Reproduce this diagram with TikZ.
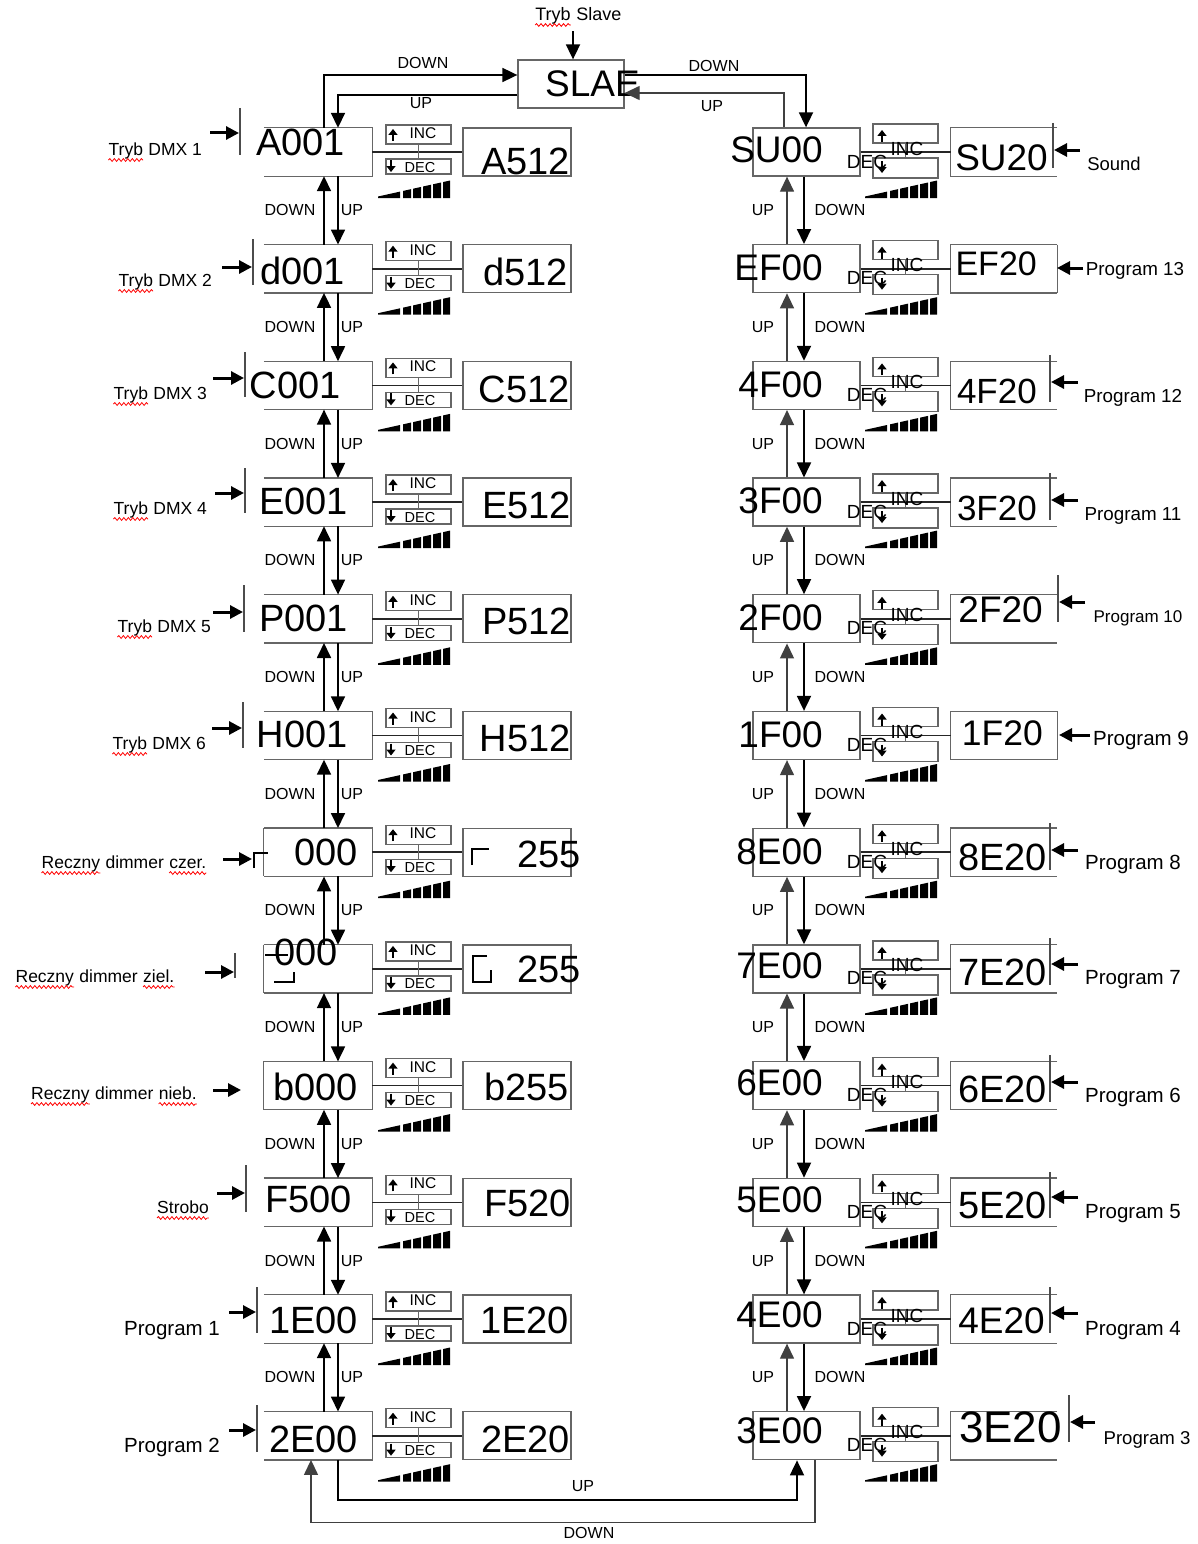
\documentclass[tikz,border=0pt]{standalone}
\usepackage{fontspec}
\setmainfont{Liberation Sans}
\usetikzlibrary{arrows.meta,decorations.pathmorphing}
\newcommand\redsq[1]{\tikz[baseline=(w.base)]{\node[inner sep=0pt,anchor=base](w) at (0,0) {#1};
  \draw[red, line width=0.8pt, decorate, decoration={snake, amplitude=1.4pt, segment length=4.5pt}]
    ([yshift=-4.5pt]w.base west) -- ([yshift=-4.5pt]w.base east);}}
\newcommand\sigbars[2]{%
  \foreach \sa/\sb in {0/22,25/33,35/43,45/53,55/63,65/72}{%
    \fill ({#1+\sa},{#2}) -- ({#1+\sb},{#2}) -- ({#1+\sb},{#2-1.5-16*\sb/72}) -- ({#1+\sa},{#2-1.5-16*\sa/72}) -- cycle;}}
\tikzset{
  box/.style={draw=black!60, line width=1.3pt, inner sep=0pt},
  boxline/.style={draw=black!60, line width=1.3pt},
  conn/.style={draw=black!85, line width=1.6pt},
  arr/.style={draw=black, line width=1.8pt, -{Triangle[length=15pt,width=14pt]}},
  arrthin/.style={draw=black!75, line width=1.3pt, -{Triangle[length=15pt,width=14pt]}},
  inarr/.style={draw=black, line width=3pt, -{Triangle[length=13pt,width=13pt]}},
  tinyarr/.style={draw=black, line width=2.2pt, -{Triangle[length=6pt,width=9pt]}},
  barline/.style={draw=black!70, line width=1.3pt},
  glyph/.style={draw=black, line width=1.8pt},
  big/.style={inner sep=0pt, anchor=base east, font=\fontsize{#1}{#1}\selectfont},
  big/.default=38,
  lab/.style={inner sep=0pt, anchor=base, font=\fontsize{#1}{#1}\selectfont},
  lab/.default=17.5,
  ud/.style={inner sep=0pt, anchor=base, font=\fontsize{16}{16}\selectfont},
}
\begin{document}
\begin{tikzpicture}[x=1pt,y=-1pt]
\fill[white] (0,0) rectangle (1198,1544);
\useasboundingbox (0,0) rectangle (1198,1544);

% ---------------- left column ----------------
\foreach \i in {0,...,11}{
  \pgfmathsetmacro\ty{128+116.7*\i}
  \node[inner sep=0pt, minimum width=108pt, minimum height=48pt] (L\i) at (318,\ty+24) {};
  \draw[boxline] (L\i.north west) -- (L\i.north east) -- (L\i.south east) -- (L\i.south west);
  \node[box, minimum width=65pt, minimum height=19pt] (LI\i) at (418.5,\ty+6.5) {};
  \node[box, minimum width=65pt, minimum height=15pt] (LD\i) at (418.5,\ty+38.5) {};
  \node[box, minimum width=108pt, minimum height=48pt] (LV\i) at (517,\ty+24) {};
  \draw[conn] (L\i.east) -- (LV\i.west);
  \draw[boxline] (LI\i.south) -- (LD\i.north);
  \draw[tinyarr] (393,\ty+13) -- (393,\ty+1);
  \draw[tinyarr] (391,\ty+32) -- (391,\ty+44);
  \node[lab=15.5] at (423,\ty+10.5) {INC};
  \node[lab=14.5] at (420,\ty+44) {DEC};
  \sigbars{378}{\ty+70}
}
\foreach \i in {6,7,8}{ \draw[boxline] (L\i.north west) -- (L\i.south west); }

\foreach \i/\txt/\xr/\bl in {0/A001/345/155.6, 1/d001/345/284.6, 2/C001/341/398.6, 3/E001/348/514.6,
  4/P001/348/631.6, 5/H001/348/747.6, 6/000/358/865.6, 7/000/338/965.6, 8/b000/358/1100,
  9/F500/352/1212, 10/1E00/358/1333, 11/2E00/358/1452}
  { \node[big] (LT\i) at (\xr,\bl) {\txt}; }
\foreach \i/\txt/\xr/\bl in {0/A512/570/175, 1/d512/568/285, 2/C512/570/402, 3/E512/571/518,
  4/P512/571/634, 5/H512/571/751, 6/255/581/867, 7/255/581/982, 8/b255/569/1100,
  9/F520/571/1216, 10/1E20/569/1333, 11/2E20/570/1452}
  { \node[big] (LW\i) at (\xr,\bl) {\txt}; }

% odd glyphs of the colour dimmer rows
\draw[glyph] (254,868) -- (254,853) -- (268,853);
\draw[glyph] (472,865) -- (472,849) -- (489,849);
\draw[glyph] (265,955) -- (288,955);
\draw[glyph] (274,982) -- (294,982) -- (294,972);
\draw[glyph] (487,956) -- (473,956) -- (473,982) -- (491,982) -- (491,970);

% input bars and arrows on the left
\foreach \x/\ya/\yb in {240/108/155, 253/239/285, 245/352/397, 245/468/513, 244/585/632,
  243/702/748, 235/953/978, 246/1165/1212, 257/1287/1333, 257/1405/1452}
  { \draw[barline] (\x,\ya) -- (\x,\yb); }
\foreach \y/\xa/\xb in {133/210/239, 267/222/252, 378/213/244, 493/215/244, 612/213/243,
  728/212/242, 859/223/252, 972/205/234, 1090/213/241, 1193/217/245, 1312/229/256, 1430/229/256}
  { \draw[inarr] (\xa,\y) -- (\xb,\y); }

\foreach \x/\y/\fs/\txt in {155/155.5/17.5/{\redsq{Tryb} DMX 1}, 165/286.5/17.5/{\redsq{Tryb} DMX 2},
  160/399.5/17.5/{\redsq{Tryb} DMX 3}, 160/514.5/17.5/{\redsq{Tryb} DMX 4},
  164/632.5/17.5/{\redsq{Tryb} DMX 5}, 159/749.5/17.5/{\redsq{Tryb} DMX 6},
  124/868.5/17.5/{\redsq{Reczny} dimmer \redsq{czer.}}, 95/982.5/17.5/{\redsq{Reczny} dimmer \redsq{ziel.}},
  114/1099.5/17.5/{\redsq{Reczny} dimmer \redsq{nieb.}}, 183/1213.5/17.5/{\redsq{Strobo}},
  172/1335/20.5/{Program 1}, 172/1452/20.5/{Program 2}}
  { \node[lab=\fs] at (\x,\y) {\txt}; }

% ---------------- right column ----------------
\foreach \i in {0,...,11}{
  \pgfmathsetmacro\ty{128+116.7*\i}
  \node[box, minimum width=107pt, minimum height=48pt] (R\i) at (806.5,\ty+24) {};
  \node[box, minimum width=65pt, minimum height=19pt] (RI\i) at (905.5,\ty+5.5) {};
  \node[box, minimum width=65pt, minimum height=20pt] (RD\i) at (905.5,\ty+40) {};
  \node[inner sep=0pt, minimum width=106pt, minimum height=48pt] (RV\i) at (1004,\ty+24) {};
  \draw[boxline] (RV\i.north east) -- (RV\i.north west) -- (RV\i.south west) -- (RV\i.south east);
  \draw[conn] (R\i.east) -- (RV\i.west);
  \draw[boxline] (RI\i.south) -- (RD\i.north);
  \draw[tinyarr] (882,\ty+14) -- (882,\ty+2);
  \draw[tinyarr] (882,\ty+33) -- (882,\ty+45);
  \node[lab=19] at (907,\ty+27) {INC};
  \node[lab=19] at (867,\ty+40) {DEC};
  \sigbars{865}{\ty+70}
}
\foreach \i in {1,5}{ \draw[boxline] (RV\i.north east) -- (RV\i.south east); }

\foreach \i/\txt/\bl in {0/SU00/162, 1/EF00/280, 2/4F00/397, 3/3F00/513, 4/2F00/630, 5/1F00/747,
  6/8E00/864, 7/7E00/978, 8/6E00/1095, 9/5E00/1212, 10/4E00/1327, 11/3E00/1443}
  { \node[big=37] (RT\i) at (823,\bl) {\txt}; }
\foreach \i/\txt/\xr/\bl/\fs in {0/SU20/1048/170/37, 1/EF20/1037/275/34, 2/4F20/1037/403/35,
  3/3F20/1037/520/35, 4/2F20/1043/622/37, 5/1F20/1043/745/35.5, 6/8E20/1047/870/38,
  7/7E20/1047/985/38, 8/6E20/1047/1102/38, 9/5E20/1047/1218/38, 10/4E20/1045/1333/37,
  11/3E20/1062/1442/44}
  { \node[big=\fs] (RW\i) at (\xr,\bl) {\txt}; }

\foreach \x/\ya/\yb in {1053/123/168, 1050/355/402, 1050/473/520, 1058/575/622, 1050/823/870,
  1050/938/985, 1050/1055/1102, 1050/1172/1218, 1050/1287/1333, 1069/1395/1442}
  { \draw[barline] (\x,\ya) -- (\x,\yb); }
\foreach \y/\xa/\xb in {150/1080/1054, 268/1083/1057, 382/1078/1051, 500/1078/1051, 602/1085/1059,
  735/1090/1059, 850/1078/1051, 964/1078/1051, 1082/1078/1051, 1197/1078/1051, 1313/1078/1051,
  1422/1095/1070}
  { \draw[inarr] (\xa,\y) -- (\xb,\y); }

\foreach \x/\y/\fs/\txt in {1114/170.5/18.5/{Sound}, 1135/275.5/18.8/{Program 13},
  1133/402.5/18.8/{Program 12}, 1133/520.5/18.8/{Program 11}, 1138/622/17/{Program 10},
  1141/745.3/20.5/{Program 9}, 1133/869.3/20.5/{Program 8}, 1133/984.3/20.5/{Program 7},
  1133/1102.3/20.5/{Program 6}, 1133/1218.3/20.5/{Program 5}, 1133/1335.3/20.5/{Program 4},
  1147/1444/18.6/{Program 3}}
  { \node[lab=\fs] at (\x,\y) {\txt}; }

% ---------------- vertical connectors ----------------
\foreach \i [evaluate=\i as \j using int(\i+1)] in {0,...,10}{
  \pgfmathsetmacro\ty{128+116.7*\i+82+5.7}
  \draw[arr] ([xshift=6pt]L\j.north) -- ([xshift=6pt]L\i.south);
  \draw[arr] ([xshift=20pt]L\i.south) -- ([xshift=20pt]L\j.north);
  \draw[arrthin] ([xshift=-19.5pt]R\j.north) -- ([xshift=-19.5pt]R\i.south);
  \draw[arr] ([xshift=-2.5pt]R\i.south) -- ([xshift=-2.5pt]R\j.north);
  \node[ud] at (290,\ty) {DOWN};
  \node[ud] at (352,\ty) {UP};
  \node[ud] at (763,\ty) {UP};
  \node[ud] at (840,\ty) {DOWN};
}

% ---------------- SLAE and top loops ----------------
\node[box, minimum width=106pt, minimum height=48pt] (S) at (571,84) {};
\node[big=37] (ST) at (640,97) {SLAE};
\node[lab=18] (TS) at (578,20.5) {\redsq{Tryb} Slave};
\draw[arr] ([xshift=2pt,yshift=28pt]S.north) -- ([xshift=2pt]S.north);
\draw[arr] ([xshift=6pt]L0.north) |- ([yshift=9pt]S.west);
\draw[arr] ([yshift=-11pt]S.west) -| ([xshift=20pt]L0.north);
\draw[arr] ([yshift=9pt]S.east) -| ([xshift=-0.5pt]R0.north);
\draw[arrthin] ([xshift=-22.5pt]R0.north) |- ([yshift=-9pt]S.east);
\node[ud] at (423,68.7) {DOWN};
\node[ud] at (421,108.7) {UP};
\node[ud] at (714,71.7) {DOWN};
\node[ud] at (712,111.7) {UP};

% ---------------- bottom loops ----------------
\draw[arr] ([xshift=20pt]L11.south) -- ++(0,40) -| ([xshift=-9.5pt]R11.south);
\draw[arrthin] ([xshift=8.5pt]R11.south) -- ++(0,62) -| ([xshift=-7pt]L11.south);
\node[ud] at (583,1491.7) {UP};
\node[ud] at (589,1538.7) {DOWN};
\end{tikzpicture}
\end{document}
